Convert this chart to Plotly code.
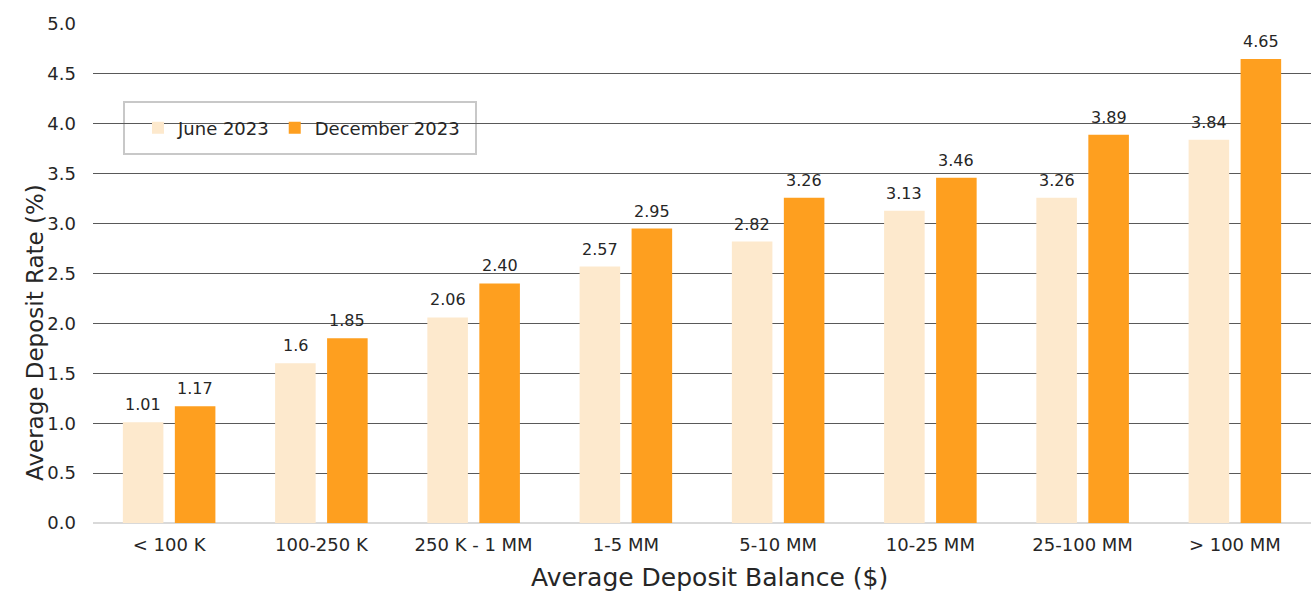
import plotly.graph_objects as go

categories = ["< 100 K", "100-250 K", "250 K - 1 MM", "1-5 MM", "5-10 MM", "10-25 MM", "25-100 MM", "> 100 MM"]
june_2023 = [1.01, 1.6, 2.06, 2.57, 2.82, 3.13, 3.26, 3.84]
june_labels = ["1.01", "1.6", "2.06", "2.57", "2.82", "3.13", "3.26", "3.84"]
dec_2023 = [1.17, 1.85, 2.40, 2.95, 3.26, 3.46, 3.89, 4.65]
dec_labels = ["1.17", "1.85", "2.40", "2.95", "3.26", "3.46", "3.89", "4.65"]
y_ticks = [0.0, 0.5, 1.0, 1.5, 2.0, 2.5, 3.0, 3.5, 4.0, 4.5, 5.0]

FONT = "DejaVu Sans"
TXT = "#262626"
fig = go.Figure()
fig.add_trace(go.Bar(name="June 2023", x=categories, y=june_2023,
                     marker_color="#FDE9CD", marker_line_width=0))
fig.add_trace(go.Bar(name="December 2023", x=categories, y=dec_2023,
                     marker_color="#FE9F1F", marker_line_width=0))

annotations = []
for cat, v, lab in zip(categories, june_2023, june_labels):
    annotations.append(dict(x=cat, y=v, text=lab, xref="x", yref="y", xshift=-26, yshift=6,
                            xanchor="center", yanchor="bottom", showarrow=False,
                            font=dict(size=16, family=FONT, color=TXT)))
for cat, v, lab in zip(categories, dec_2023, dec_labels):
    annotations.append(dict(x=cat, y=v, text=lab, xref="x", yref="y", xshift=26, yshift=6,
                            xanchor="center", yanchor="bottom", showarrow=False,
                            font=dict(size=16, family=FONT, color=TXT)))
annotations += [
    dict(text="Average Deposit Balance ($)", xref="paper", yref="paper",
         x=(709-93)/1218, y=(523-577)/499, xanchor="center", yanchor="middle",
         showarrow=False, font=dict(size=25, family=FONT, color=TXT)),
    dict(text="Average Deposit Rate (%)", xref="paper", yref="paper", textangle=-90,
         x=(35-93)/1218, y=(523-333)/499, xanchor="center", yanchor="middle",
         showarrow=False, font=dict(size=23, family=FONT, color=TXT)),
]

fig.update_layout(
    width=1311, height=591,
    margin=dict(l=93, r=0, t=24, b=68),
    paper_bgcolor="white", plot_bgcolor="white",
    barmode="group", bargap=0.317, bargroupgap=0.22,
    font=dict(family=FONT, color=TXT),
    showlegend=True,
    legend=dict(orientation="h", x=(138-93)/1218, y=(523-128)/499, xanchor="left", yanchor="middle",
                bgcolor="rgba(0,0,0,0)", font=dict(size=18, family=FONT, color=TXT),
                itemwidth=30),
    shapes=[dict(type="rect", xref="paper", yref="paper",
                 x0=(124-93)/1218, x1=(476-93)/1218, y0=(523-154)/499, y1=(523-102)/499,
                 line=dict(color="#C8C8C8", width=2), fillcolor="white", layer="between")],
    annotations=annotations,
    xaxis=dict(automargin=False, tickfont=dict(size=18, family=FONT, color=TXT),
               showgrid=False, showline=False, ticks="", ticklabelstandoff=9),
    yaxis=dict(automargin=False, range=[0, 5.0], tickvals=y_ticks, tickformat=".1f",
               tickfont=dict(size=18, family=FONT, color=TXT), showgrid=True, gridcolor="#595959", gridwidth=1,
               zeroline=True, zerolinecolor="#D9D9D9", zerolinewidth=2, showline=False, ticks="",
               ticklabelstandoff=16),
)
fig.write_html("out.html", post_script="document.body.style.margin='0';",
               config={"displayModeBar": False})
